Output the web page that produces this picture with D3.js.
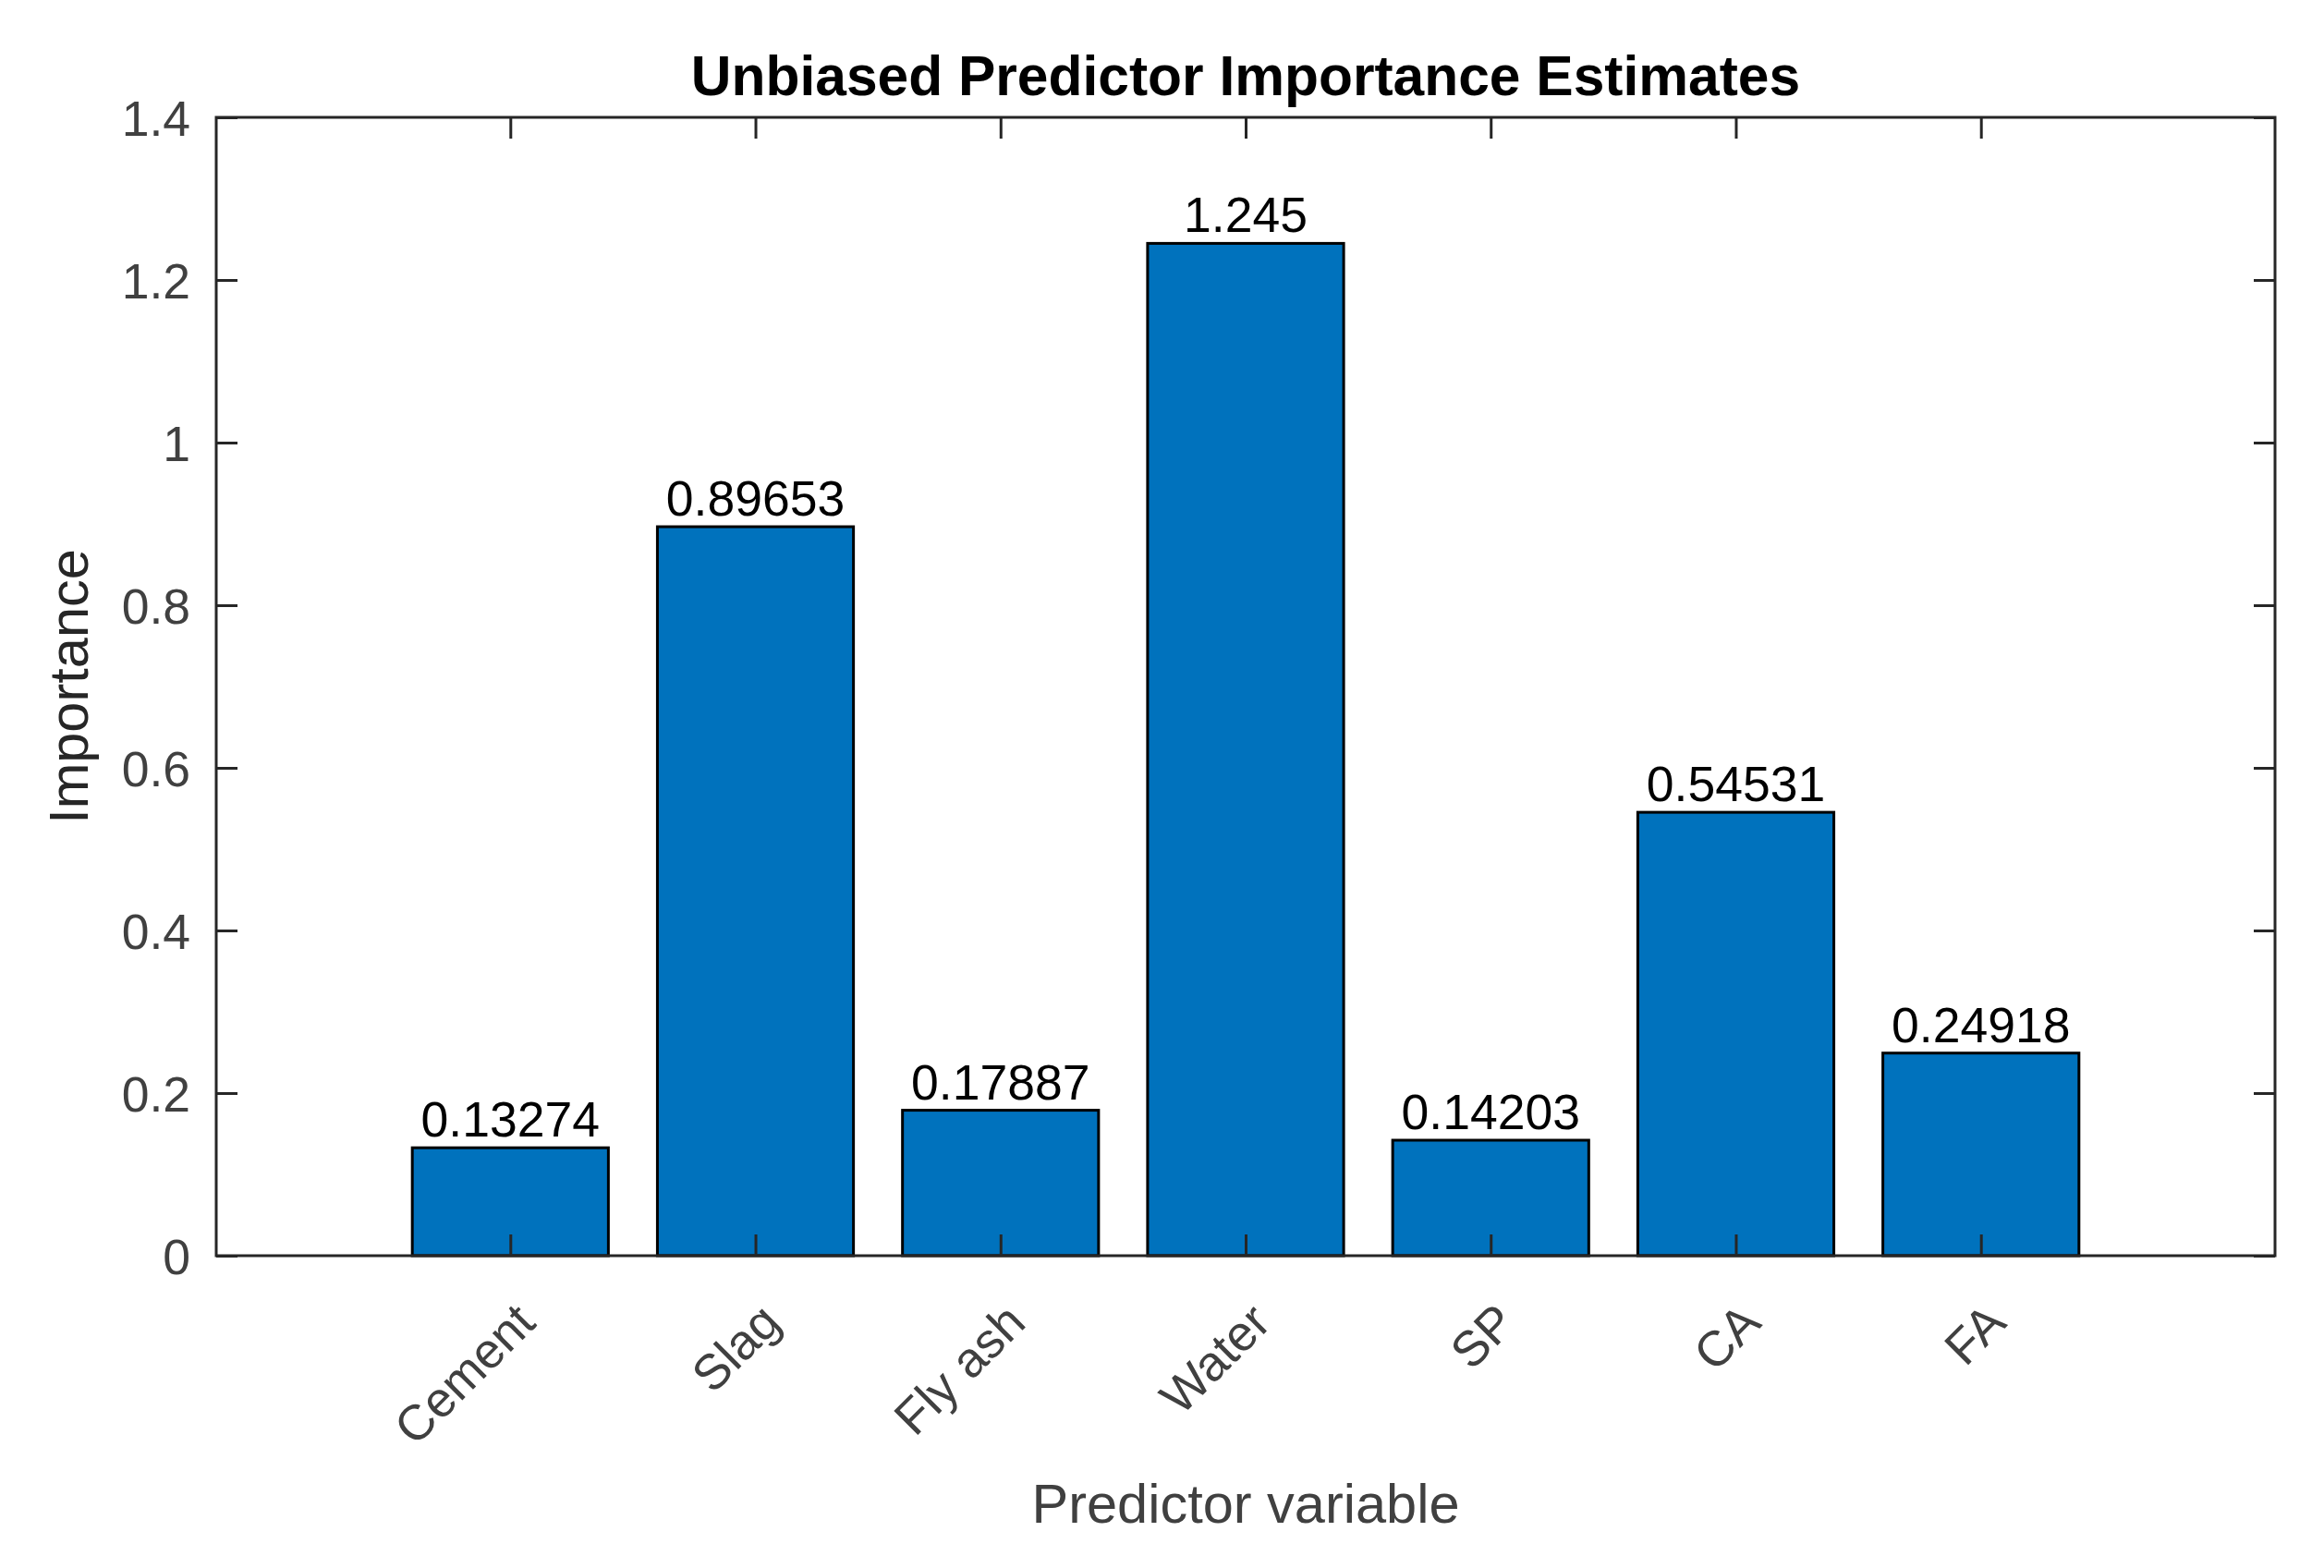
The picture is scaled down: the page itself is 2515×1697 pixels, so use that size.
<!DOCTYPE html>
<html>
<head>
<meta charset="utf-8">
<script src="https://cdn.jsdelivr.net/npm/d3@7"></script>
<style>
  body { margin: 0; background: #fff; }
  text { font-family: 'Liberation Sans', Arial, Helvetica, sans-serif; }
</style>
</head>
<body>
<div id="chart"></div>
<script>
// data
const categories = ['Cement', 'Slag', 'Fly ash', 'Water', 'SP', 'CA', 'FA'];
const importance = [0.13274, 0.89653, 0.17887, 1.245, 0.14203, 0.54531, 0.24918];
const valueLabels = ['0.13274', '0.89653', '0.17887', '1.245', '0.14203', '0.54531', '0.24918'];
const yTicks = [0, 0.2, 0.4, 0.6, 0.8, 1, 1.2, 1.4];
const yTickLabels = ['0', '0.2', '0.4', '0.6', '0.8', '1', '1.2', '1.4'];

const data = categories.map((c, i) => ({ name: c, value: importance[i], label: valueLabels[i] }));

const settings = {
  axisColor: '#262626',
  tickText: '#404040',
  barFill: '#0072BD',
  barEdge: '#000000',
  tickFont: 53.5,
  labelFont: 59.5,
  titleFont: 60.5
};

const
  totalWidth = 2515,
  totalHeight = 1697;
const box = {
  left: 234,
  right: 2462,
  top: 127,
  bottom: 1359
};
const tickLen = 23;

const svg = d3.select('#chart').append('svg')
  .attr('width', totalWidth)
  .attr('height', totalHeight)
  .style('display', 'block');

svg.append('rect')
  .attr('width', totalWidth)
  .attr('height', totalHeight)
  .attr('fill', '#fff');

//--------------------- Scales ---------------------
const xScale = d3.scalePoint()
  .domain(categories)
  .range([box.left, box.right])
  .padding(1.2);
const barWidth = 0.8 * xScale.step();

const yScale = d3.scaleLinear()
  .domain([0, 1.4])
  .range([box.bottom, box.top]);

//--------------------- Bars ---------------------
svg.append('g')
  .selectAll('rect')
  .data(data)
  .enter()
  .append('rect')
  .attr('x', d => xScale(d.name) - barWidth / 2)
  .attr('y', d => yScale(d.value))
  .attr('width', barWidth)
  .attr('height', d => yScale(0) - yScale(d.value))
  .attr('fill', settings.barFill)
  .attr('stroke', settings.barEdge)
  .attr('stroke-width', 3);

//--------------------- Axes ---------------------
const styleAxis = (g) => {
  g.select('.domain').remove();
  g.selectAll('line')
    .attr('stroke', settings.axisColor)
    .attr('stroke-width', 3);
  g.selectAll('text')
    .attr('fill', settings.tickText)
    .style('font-size', settings.tickFont + 'px');
};

const yAxisLeft = d3.axisLeft(yScale)
  .tickValues(yTicks)
  .tickFormat((d, i) => yTickLabels[i])
  .tickSizeInner(-tickLen)
  .tickSizeOuter(0)
  .tickPadding(28);
svg.append('g')
  .attr('transform', 'translate(' + box.left + ',0)')
  .call(yAxisLeft)
  .call(styleAxis)
  .selectAll('text').attr('dy', '0.36em');

const yAxisRight = d3.axisRight(yScale)
  .tickValues(yTicks)
  .tickFormat('')
  .tickSizeInner(-tickLen)
  .tickSizeOuter(0);
svg.append('g')
  .attr('transform', 'translate(' + box.right + ',0)')
  .call(yAxisRight)
  .call(styleAxis);

const xAxisTop = d3.axisTop(xScale)
  .tickFormat('')
  .tickSizeInner(-tickLen)
  .tickSizeOuter(0);
svg.append('g')
  .attr('transform', 'translate(0,' + box.top + ')')
  .call(xAxisTop)
  .call(styleAxis);

const xAxisBottom = d3.axisBottom(xScale)
  .tickSizeInner(-tickLen)
  .tickSizeOuter(0);
const xAxisView = svg.append('g')
  .attr('transform', 'translate(0,' + box.bottom + ')')
  .call(xAxisBottom)
  .call(styleAxis);
xAxisView.selectAll('text')
  .attr('y', null)
  .attr('dy', null)
  .attr('text-anchor', 'end')
  .attr('transform', 'translate(29,75) rotate(-45)');

// box
svg.append('rect')
  .attr('x', box.left)
  .attr('y', box.top)
  .attr('width', box.right - box.left)
  .attr('height', box.bottom - box.top)
  .attr('fill', 'none')
  .attr('stroke', settings.axisColor)
  .attr('stroke-width', 3);

//--------------------- Value labels ---------------------
svg.append('g')
  .selectAll('text')
  .data(data)
  .enter()
  .append('text')
  .attr('x', d => xScale(d.name))
  .attr('y', d => yScale(d.value) - 12)
  .attr('text-anchor', 'middle')
  .attr('fill', '#000')
  .style('font-size', settings.tickFont + 'px')
  .text(d => d.label);

//--------------------- Titles ---------------------
svg.append('text')
  .attr('x', (box.left + box.right) / 2)
  .attr('y', 103)
  .attr('text-anchor', 'middle')
  .attr('fill', '#000')
  .style('font-size', settings.titleFont + 'px')
  .style('font-weight', 'bold')
  .text('Unbiased Predictor Importance Estimates');

svg.append('text')
  .attr('x', (box.left + box.right) / 2)
  .attr('y', 1648)
  .attr('text-anchor', 'middle')
  .attr('fill', settings.tickText)
  .style('font-size', settings.labelFont + 'px')
  .text('Predictor variable');

svg.append('text')
  .attr('transform', 'translate(95,' + ((box.top + box.bottom) / 2) + ') rotate(-90)')
  .attr('text-anchor', 'middle')
  .attr('fill', settings.axisColor)
  .style('font-size', settings.labelFont + 'px')
  .text('Importance');
</script>
</body>
</html>
